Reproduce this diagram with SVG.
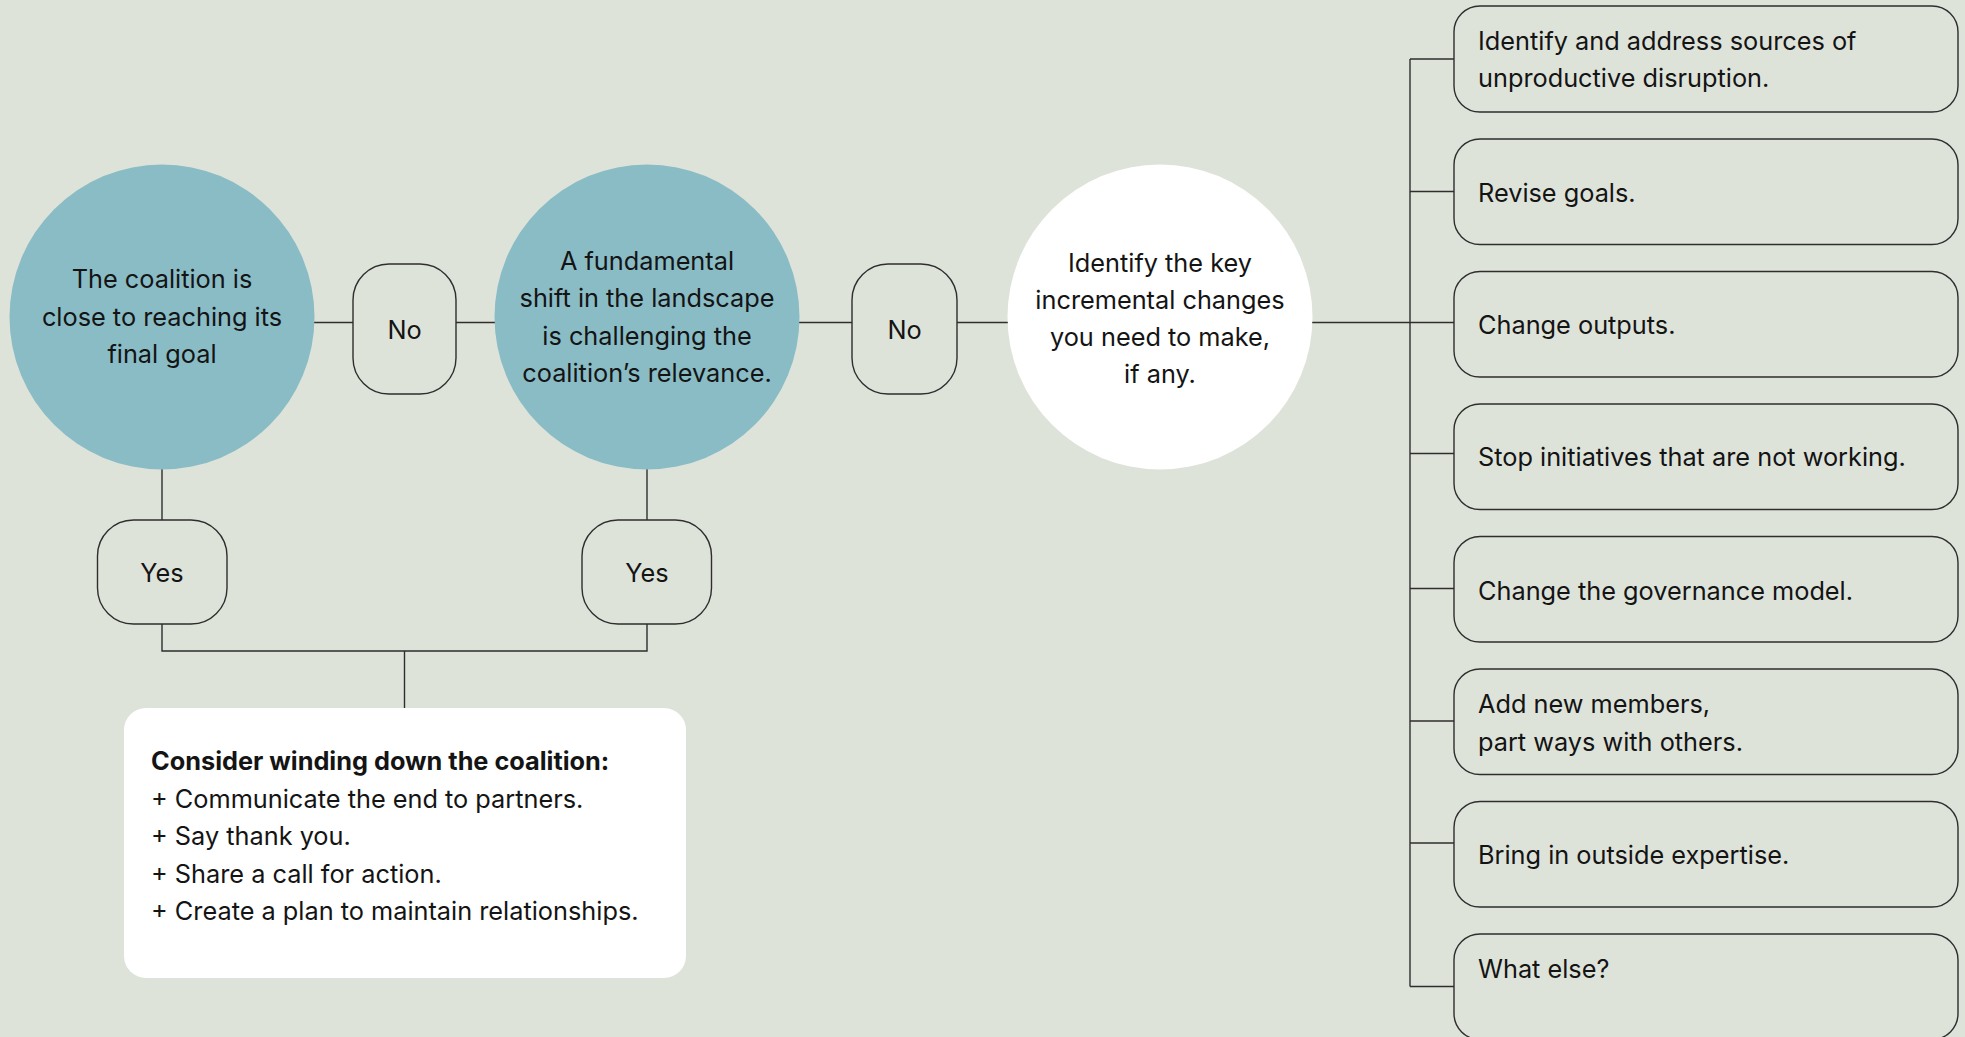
<svg xmlns="http://www.w3.org/2000/svg" width="1965" height="1037" viewBox="0 0 1965 1037">
<style>
  text { font-family: Inter, "Liberation Sans", sans-serif; font-size: 25.3px; fill: #141414; }
  .c { text-anchor: middle; }
  .b { font-weight: 700; }
  .conn { stroke: #2e2e2e; stroke-width: 1.4; fill: none; }
  .pill { fill: none; stroke: #2e2e2e; stroke-width: 1.4; }
  .teal { fill: #8abcc6; }
</style>
<rect x="0" y="0" width="1965" height="1037" fill="#dee3da"/>

<g id="connectors">
  <line class="conn" x1="314" y1="322.5" x2="353" y2="322.5"/>
  <line class="conn" x1="456" y1="322.5" x2="495" y2="322.5"/>
  <line class="conn" x1="799" y1="322.5" x2="852" y2="322.5"/>
  <line class="conn" x1="957" y1="322.5" x2="1008" y2="322.5"/>
  <line class="conn" x1="1312" y1="322.5" x2="1454" y2="322.5"/>
  <line class="conn" x1="162" y1="469" x2="162" y2="520"/>
  <line class="conn" x1="647" y1="469" x2="647" y2="520"/>
  <polyline class="conn" points="162,624 162,651 647,651 647,624"/>
  <line class="conn" x1="404.5" y1="651" x2="404.5" y2="708"/>
  <line class="conn" x1="1410" y1="59" x2="1410" y2="986.5"/>
  <line class="conn" x1="1410" y1="59" x2="1454" y2="59"/>
  <line class="conn" x1="1410" y1="191.5" x2="1454" y2="191.5"/>
  <line class="conn" x1="1410" y1="453.5" x2="1454" y2="453.5"/>
  <line class="conn" x1="1410" y1="588.5" x2="1454" y2="588.5"/>
  <line class="conn" x1="1410" y1="721" x2="1454" y2="721"/>
  <line class="conn" x1="1410" y1="843" x2="1454" y2="843"/>
  <line class="conn" x1="1410" y1="986.5" x2="1454" y2="986.5"/>
</g>

<g id="q1">
  <circle class="teal" cx="162" cy="317" r="152.5"/>
  <text class="c" x="162" y="288">The coalition is</text>
  <text class="c" x="162" y="325.5">close to reaching its</text>
  <text class="c" x="162" y="363">final goal</text>
</g>

<g id="no1">
  <rect class="pill" x="353" y="264" width="103" height="130" rx="36"/>
  <text class="c" x="404.5" y="339">No</text>
</g>

<g id="q2">
  <circle class="teal" cx="647" cy="317" r="152.5"/>
  <text class="c" x="647" y="269.5">A fundamental</text>
  <text class="c" x="647" y="307">shift in the landscape</text>
  <text class="c" x="647" y="344.5">is challenging the</text>
  <text class="c" x="647" y="382">coalition’s relevance.</text>
</g>

<g id="no2">
  <rect class="pill" x="852" y="264" width="105" height="130" rx="36"/>
  <text class="c" x="904.5" y="339">No</text>
</g>

<g id="changes">
  <circle cx="1160" cy="317" r="152.5" fill="#ffffff"/>
  <text class="c" x="1160" y="271.5">Identify the key</text>
  <text class="c" x="1160" y="308.5">incremental changes</text>
  <text class="c" x="1160" y="345.5">you need to make,</text>
  <text class="c" x="1160" y="382.5">if any.</text>
</g>

<g id="yes1">
  <rect class="pill" x="97.5" y="520" width="129.5" height="104" rx="36"/>
  <text class="c" x="162" y="582">Yes</text>
</g>

<g id="yes2">
  <rect class="pill" x="582" y="520" width="129.5" height="104" rx="36"/>
  <text class="c" x="647" y="582">Yes</text>
</g>

<g id="wind-down">
  <rect x="124" y="708" width="562" height="270" rx="22" fill="#ffffff"/>
  <text class="b" x="151" y="770">Consider winding down the coalition:</text>
  <text x="151" y="807.5">+ Communicate the end to partners.</text>
  <text x="151" y="845">+ Say thank you.</text>
  <text x="151" y="882.5">+ Share a call for action.</text>
  <text x="151" y="920">+ Create a plan to maintain relationships.</text>
</g>

<g id="opt1">
  <rect class="pill" x="1454" y="6" width="504" height="106" rx="26"/>
  <text x="1478" y="50">Identify and address sources of</text>
  <text x="1478" y="87">unproductive disruption.</text>
</g>
<g id="opt2">
  <rect class="pill" x="1454" y="139" width="504" height="105.5" rx="26"/>
  <text x="1478" y="201.5">Revise goals.</text>
</g>
<g id="opt3">
  <rect class="pill" x="1454" y="271.5" width="504" height="105.5" rx="26"/>
  <text x="1478" y="333.5">Change outputs.</text>
</g>
<g id="opt4">
  <rect class="pill" x="1454" y="404" width="504" height="105.5" rx="26"/>
  <text x="1478" y="465.5">Stop initiatives that are not working.</text>
</g>
<g id="opt5">
  <rect class="pill" x="1454" y="536.5" width="504" height="105.5" rx="26"/>
  <text x="1478" y="599.5">Change the governance model.</text>
</g>
<g id="opt6">
  <rect class="pill" x="1454" y="669" width="504" height="105.5" rx="26"/>
  <text x="1478" y="713">Add new members,</text>
  <text x="1478" y="750.5">part ways with others.</text>
</g>
<g id="opt7">
  <rect class="pill" x="1454" y="801.5" width="504" height="105.5" rx="26"/>
  <text x="1478" y="863.5">Bring in outside expertise.</text>
</g>
<g id="opt8">
  <rect class="pill" x="1454" y="934" width="504" height="105.5" rx="26"/>
  <text x="1478" y="977.5">What else?</text>
</g>
</svg>
